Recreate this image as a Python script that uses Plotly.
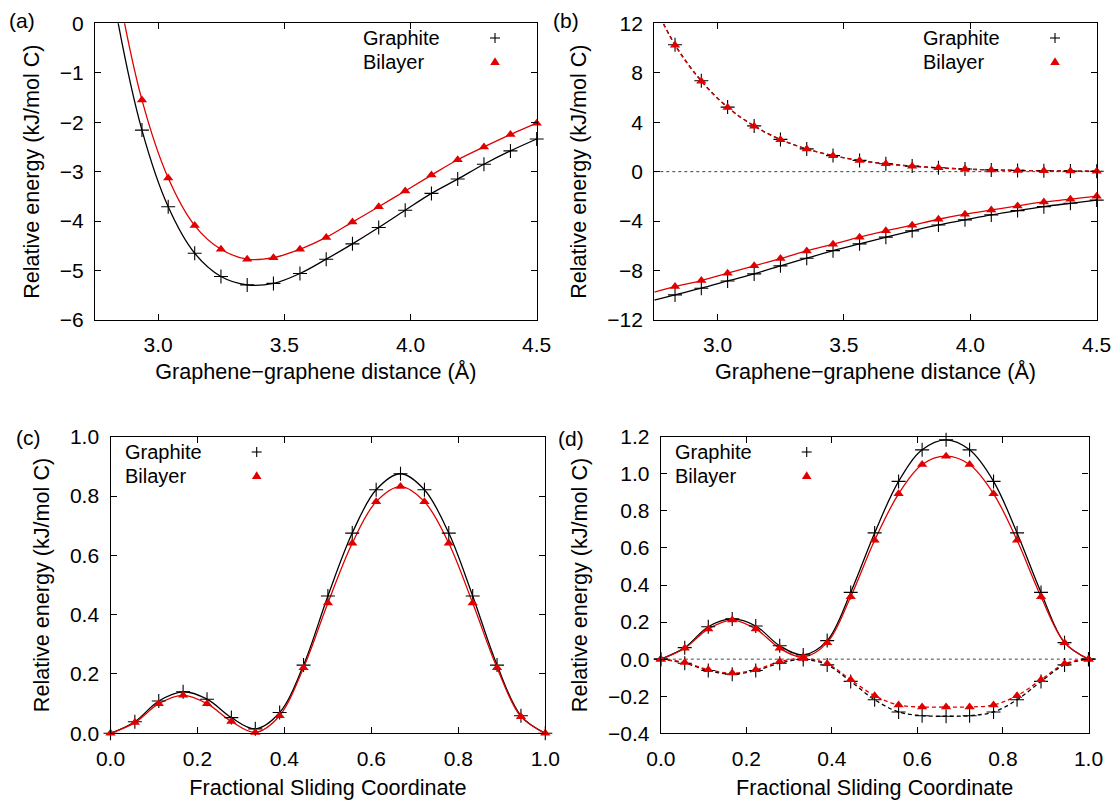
import plotly.graph_objects as go

W, H = 1115, 800
RED = "#e00000"
BLK = "#000000"
FONT = "Liberation Sans"
FS = 21
FS_T = 21.6
FS_L = 20

# ---------------- data ----------------
# interlayer distance grid (Å)
dist = [2.832, 2.936, 3.040, 3.145, 3.249, 3.353, 3.457, 3.562, 3.666,
        3.770, 3.874, 3.979, 4.083, 4.187, 4.291, 4.396, 4.500]

# (a) total binding energy, points at dist[1:]
a_graphite = [-2.16, -3.71, -4.65, -5.12, -5.29, -5.26, -5.06, -4.77,
              -4.46, -4.13, -3.78, -3.44, -3.15, -2.85, -2.58, -2.34]
a_bilayer = [-1.55, -3.13, -4.09, -4.57, -4.77, -4.74, -4.57, -4.33,
             -4.02, -3.71, -3.39, -3.07, -2.76, -2.50, -2.25, -2.02]
# fit curves read beyond the first point (left of the plotted markers)
a_fit_lead_x = [2.75, 2.832]
a_fit_lead_graphite = [3.0, 0.27]
a_fit_lead_bilayer = [3.65, 0.94]

# (b) repulsive (dashed) and attractive (solid) components
b_rep_graphite = [10.26, 7.35, 5.22, 3.70, 2.61, 1.84, 1.30, 0.91, 0.64,
                  0.45, 0.31, 0.21, 0.14, 0.10, 0.07, 0.05, 0.03]
b_rep_bilayer = [10.22, 7.31, 5.19, 3.68, 2.59, 1.83, 1.29, 0.90, 0.63,
                 0.44, 0.31, 0.21, 0.14, 0.10, 0.07, 0.05, 0.03]
b_att_graphite = [-9.97, -9.43, -8.84, -8.27, -7.62, -7.00, -6.39, -5.84, -5.30,
                  -4.79, -4.31, -3.90, -3.50, -3.15, -2.83, -2.56, -2.30]
b_att_bilayer = [-9.30, -8.81, -8.21, -7.62, -7.03, -6.41, -5.87, -5.30, -4.79,
                 -4.33, -3.85, -3.44, -3.10, -2.77, -2.45, -2.23, -1.98]
b_fit_lead_x = [2.75]
b_fit_lead_rep = [13.5]
b_fit_lead_att_graphite = [-10.4]
b_fit_lead_att_bilayer = [-9.75]

# sliding coordinate grid
slide = [0.000, 0.056, 0.111, 0.167, 0.222, 0.278, 0.333, 0.389, 0.444, 0.500,
         0.556, 0.611, 0.667, 0.722, 0.778, 0.833, 0.889, 0.944, 1.000]

# (c) sliding energy
c_graphite = [0.000, 0.039, 0.109, 0.140, 0.115, 0.053, 0.015, 0.070, 0.230, 0.463,
              0.675, 0.821, 0.875, 0.821, 0.675, 0.463, 0.230, 0.059, 0.000]
c_bilayer = [0.000, 0.036, 0.100, 0.128, 0.100, 0.040, 0.003, 0.059, 0.221, 0.439,
             0.641, 0.781, 0.832, 0.781, 0.641, 0.439, 0.221, 0.056, 0.000]

# (d) total (solid) and dispersion (dashed) sliding energies
d_tot_graphite = [0.000, 0.062, 0.175, 0.217, 0.179, 0.072, 0.023, 0.100, 0.360, 0.681,
                  0.959, 1.129, 1.183, 1.129, 0.959, 0.681, 0.360, 0.089, 0.000]
d_tot_bilayer = [0.000, 0.059, 0.163, 0.211, 0.163, 0.059, 0.011, 0.089, 0.337, 0.641,
                 0.892, 1.050, 1.095, 1.050, 0.892, 0.641, 0.337, 0.089, 0.000]
d_disp_graphite = [0.000, -0.022, -0.061, -0.081, -0.061, -0.022, -0.002, -0.031, -0.120, -0.219,
                   -0.285, -0.305, -0.308, -0.305, -0.285, -0.219, -0.120, -0.031, 0.000]
d_disp_bilayer = [0.000, -0.018, -0.057, -0.075, -0.057, -0.013, 0.004, -0.025, -0.111, -0.197,
                  -0.247, -0.258, -0.258, -0.258, -0.247, -0.197, -0.111, -0.025, 0.000]

legend_labels = ["Graphite", "Bilayer"]
panel_labels = ["(a)", "(b)", "(c)", "(d)"]
ytitle = "Relative energy (kJ/mol C)"
xtitle_dist = "Graphene\u2212graphene distance (\u00c5)"
xtitle_slide = "Fractional Sliding Coordinate"

# ---------------- figure ----------------
fig = go.Figure()

PLUS = dict(symbol="cross-thin", size=10, line=dict(color=BLK, width=1.1), color=BLK)
TRI = dict(symbol="triangle-up", size=9, color=RED, line=dict(width=0))


def curve(x, y, color, xa, ya, dash="solid"):
    fig.add_trace(go.Scatter(x=x, y=y, mode="lines", line=dict(color=color, width=1.3, dash=dash,
                                                                shape="spline", smoothing=1.0),
                             xaxis=xa, yaxis=ya, showlegend=False, hoverinfo="skip"))


def pts(x, y, marker, xa, ya):
    fig.add_trace(go.Scatter(x=x, y=y, mode="markers", marker=marker, xaxis=xa, yaxis=ya,
                             showlegend=False, cliponaxis=False))


# (a)
curve(a_fit_lead_x + dist[1:], a_fit_lead_graphite + a_graphite, BLK, "x", "y")
curve(a_fit_lead_x + dist[1:], a_fit_lead_bilayer + a_bilayer, RED, "x", "y")
pts(dist[1:], a_graphite, PLUS, "x", "y")
pts(dist[1:], a_bilayer, TRI, "x", "y")

# (b)
DASH = "4px,3px"
curve(b_fit_lead_x + dist, b_fit_lead_rep + b_rep_graphite, BLK, "x2", "y2", DASH)
curve(b_fit_lead_x + dist, b_fit_lead_rep + b_rep_bilayer, RED, "x2", "y2", DASH)
curve(b_fit_lead_x + dist, b_fit_lead_att_graphite + b_att_graphite, BLK, "x2", "y2")
curve(b_fit_lead_x + dist, b_fit_lead_att_bilayer + b_att_bilayer, RED, "x2", "y2")
pts(dist, b_rep_graphite, PLUS, "x2", "y2")
pts(dist, b_att_graphite, PLUS, "x2", "y2")
pts(dist, b_rep_bilayer, TRI, "x2", "y2")
pts(dist, b_att_bilayer, TRI, "x2", "y2")

# (c)
curve(slide, c_graphite, BLK, "x3", "y3")
curve(slide, c_bilayer, RED, "x3", "y3")
pts(slide, c_graphite, PLUS, "x3", "y3")
pts(slide, c_bilayer, TRI, "x3", "y3")

# (d)
curve(slide, d_tot_graphite, BLK, "x4", "y4")
curve(slide, d_tot_bilayer, RED, "x4", "y4")
curve(slide, d_disp_graphite, BLK, "x4", "y4", DASH)
curve(slide, d_disp_bilayer, RED, "x4", "y4", DASH)
pts(slide, d_tot_graphite, PLUS, "x4", "y4")
pts(slide, d_disp_graphite, PLUS, "x4", "y4")
pts(slide, d_tot_bilayer, TRI, "x4", "y4")
pts(slide, d_disp_bilayer, TRI, "x4", "y4")


def px_x(p):
    return p / W


def px_y(p):
    return 1 - p / H


def axis(dom, rng, dtick, tick0, fmt, anchor, title, standoff):
    return dict(domain=dom, range=rng, dtick=dtick, tick0=tick0, tickformat=fmt,
                ticks="inside", ticklen=6, tickwidth=1, tickcolor=BLK,
                showline=True, linecolor=BLK, linewidth=1.3, mirror="ticks",
                showgrid=False, zeroline=False, anchor=anchor, automargin=False,
                tickfont=dict(family=FONT, size=FS, color=BLK),
                ticklabelstandoff=6,
                title=dict(text=title, font=dict(family=FONT, size=FS_T, color=BLK), standoff=standoff))


ya_dom = [px_y(320), px_y(23.3)]
yc_dom = [px_y(733.3), px_y(436.7)]

fig.update_layout(
    width=W, height=H, margin=dict(l=0, r=0, t=0, b=0, autoexpand=False),
    paper_bgcolor="white", plot_bgcolor="white", showlegend=False,
    font=dict(family=FONT, size=FS, color=BLK),
    xaxis=axis([px_x(95), px_x(536.7)], [2.75, 4.5], 0.5, 3.0, ".1f", "y", xtitle_dist, 8),
    yaxis=axis(ya_dom, [-6, 0], 1, 0, "d", "x", ytitle, 14),
    xaxis2=axis([px_x(654.3), px_x(1096.7)], [2.75, 4.5], 0.5, 3.0, ".1f", "y2", xtitle_dist, 8),
    yaxis2=axis(ya_dom, [-12, 12], 4, 0, "d", "x2", ytitle, 14),
    xaxis3=axis([px_x(110.5), px_x(545.3)], [0, 1], 0.2, 0, ".1f", "y3", xtitle_slide, 12),
    yaxis3=axis(yc_dom, [0, 1], 0.2, 0, ".1f", "x3", ytitle, 14),
    xaxis4=axis([px_x(660.8), px_x(1088.5)], [0, 1], 0.2, 0, ".1f", "y4", xtitle_slide, 12),
    yaxis4=axis(yc_dom, [-0.4, 1.2], 0.2, 0, ".1f", "x4", ytitle, 14),
)

# zero reference lines (dotted)
for xa, ya in (("x2", "y2"), ("x4", "y4")):
    fig.add_shape(type="line", xref=f"{xa} domain", yref=ya, x0=0, x1=1, y0=0, y1=0,
                  line=dict(color="#444444", width=1, dash="dot"), layer="below")

annotations = []
# panel letters
for lab, (x, y) in zip(panel_labels, [(7, 20), (551, 20), (14, 437), (556, 439)]):
    annotations.append(dict(text=lab, xref="paper", yref="paper", x=px_x(x), y=px_y(y),
                            xanchor="left", yanchor="middle", showarrow=False,
                            font=dict(family=FONT, size=FS, color=BLK)))

# legends: text on left, symbol on right (gnuplot style)
legend_spots = [(361.7, 495, 38, 61.5), (921.7, 1055, 38, 61.5),
                (124.3, 256.7, 452, 475.5), (674.3, 806.7, 452, 475.5)]
shapes = []
for tx, sx, y1, y2 in legend_spots:
    for lab, yy in zip(legend_labels, (y1, y2)):
        annotations.append(dict(text=lab, xref="paper", yref="paper", x=px_x(tx), y=px_y(yy),
                                xanchor="left", yanchor="middle", showarrow=False,
                                borderpad=0,
                                font=dict(family=FONT, size=FS_L, color=BLK)))
    # plus key
    h = 5.0
    shapes.append(dict(type="line", xref="paper", yref="paper", x0=px_x(sx - h), x1=px_x(sx + h),
                       y0=px_y(y1), y1=px_y(y1), line=dict(color=BLK, width=1.1)))
    shapes.append(dict(type="line", xref="paper", yref="paper", x0=px_x(sx), x1=px_x(sx),
                       y0=px_y(y1 - h), y1=px_y(y1 + h), line=dict(color=BLK, width=1.1)))
    # triangle key
    path = (f"M {px_x(sx - 4.8)},{px_y(y2 + 3.4)} L {px_x(sx + 4.8)},{px_y(y2 + 3.4)} "
            f"L {px_x(sx)},{px_y(y2 - 4.2)} Z")
    shapes.append(dict(type="path", xref="paper", yref="paper", path=path,
                       fillcolor=RED, line=dict(width=0)))

for s in shapes:
    fig.add_shape(**s)
fig.update_layout(annotations=annotations)

fig.write_html("out.html")
